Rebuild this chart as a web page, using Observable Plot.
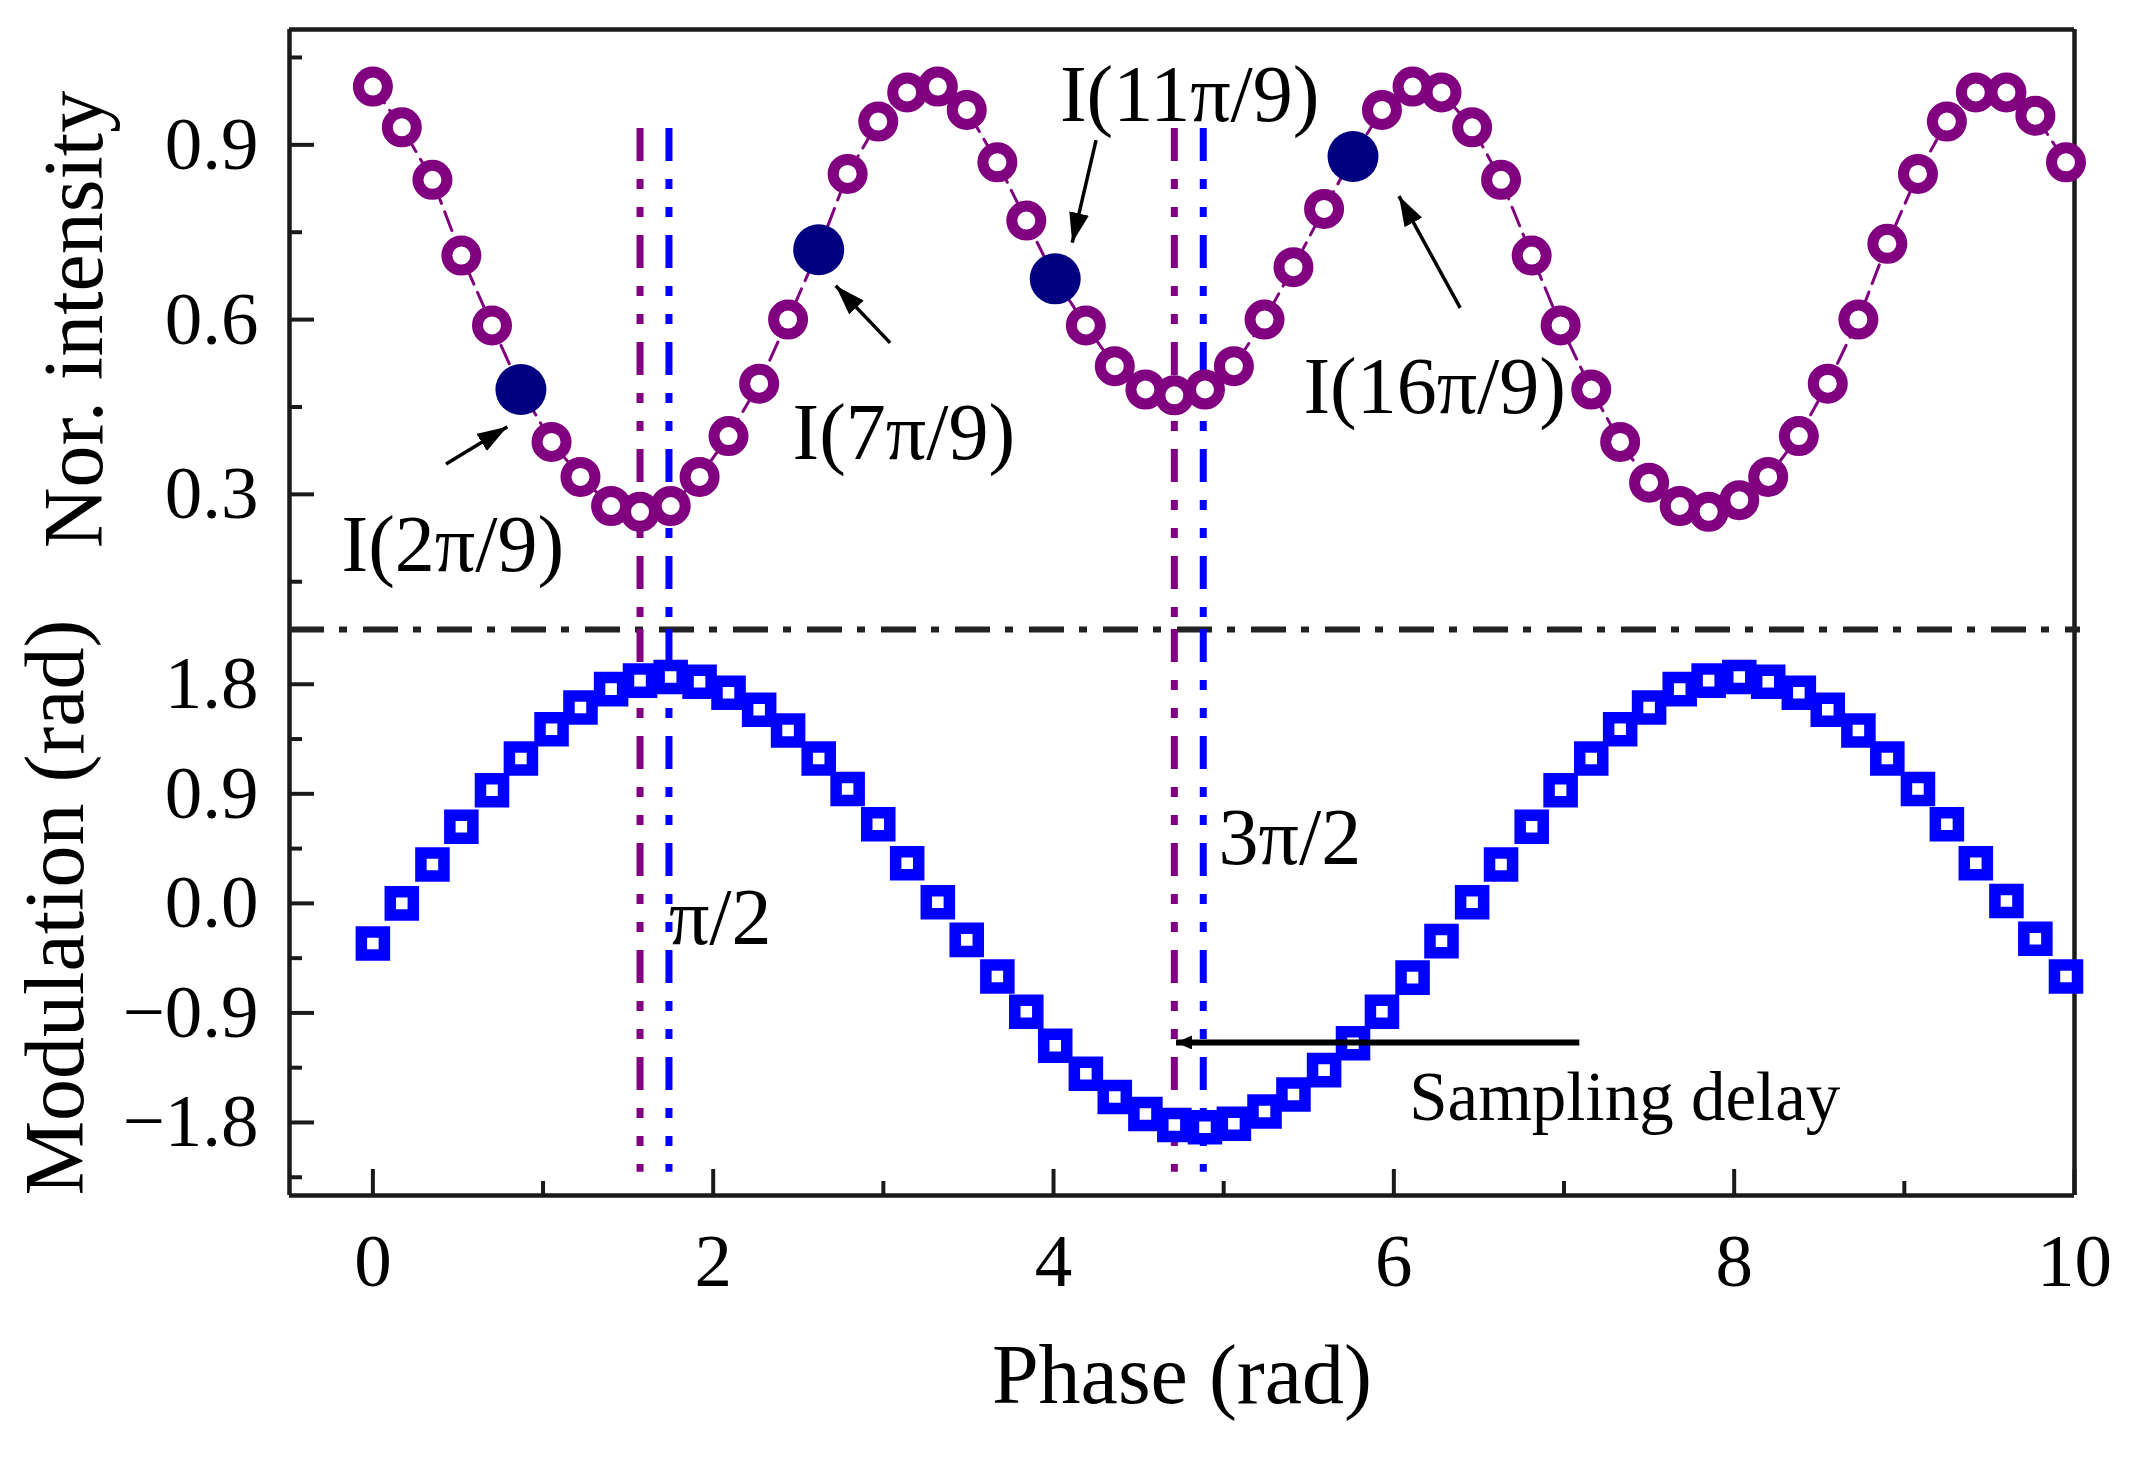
<!DOCTYPE html>
<html>
<head>
<meta charset="utf-8">
<script src="https://cdn.jsdelivr.net/npm/d3@7"></script>
<script src="https://cdn.jsdelivr.net/npm/@observablehq/plot@0.6"></script>
<style>
  body { margin: 0; background: white; }
  #chart { position: relative; width: 2129px; height: 1463px; }
  #chart svg { position: absolute; left: 0; top: 0; }
</style>
</head>
<body>
<div id="chart"></div>
<script>
// phase samples (rad)
const phase = [0.00,0.17,0.35,0.52,0.70,0.87,1.05,1.22,1.40,1.57,1.75,1.92,2.09,2.27,2.44,2.62,2.79,2.97,3.14,3.32,
  3.49,3.67,3.84,4.01,4.19,4.36,4.54,4.71,4.89,5.06,5.24,5.41,5.59,5.76,5.93,6.11,6.28,6.46,6.63,6.81,
  6.98,7.16,7.33,7.50,7.68,7.85,8.03,8.20,8.38,8.55,8.73,8.90,9.08,9.25,9.42,9.60,9.77,9.95]

const intensity = [1.00,0.93,0.84,0.71,0.59,0.48,0.39,0.33,0.28,0.27,0.28,0.33,0.40,0.49,0.60,0.72,0.85,0.94,0.99,1.00,
  0.96,0.87,0.77,0.67,0.59,0.52,0.48,0.47,0.48,0.52,0.60,0.69,0.79,0.88,0.96,1.00,0.99,0.93,0.84,0.71,
  0.59,0.48,0.39,0.32,0.28,0.27,0.29,0.33,0.40,0.49,0.60,0.73,0.85,0.94,0.99,0.99,0.95,0.87]

const modulation = [-0.33,0.00,0.32,0.63,0.93,1.19,1.43,1.61,1.76,1.83,1.86,1.82,1.73,1.59,1.42,1.19,0.94,0.65,0.33,0.01,
  -0.30,-0.60,-0.89,-1.17,-1.40,-1.59,-1.73,-1.82,-1.84,-1.81,-1.71,-1.57,-1.37,-1.15,-0.89,-0.61,-0.31,0.01,0.32,0.63,
  0.93,1.19,1.43,1.61,1.76,1.83,1.86,1.82,1.73,1.59,1.42,1.19,0.94,0.65,0.33,0.02,-0.29,-0.60]

// samples marked with filled dots
const picked = [5, 15, 23, 33]

const purpleX = [1.57, 4.71]   // pi/2, 3pi/2
const blueX = [1.74, 4.88]     // modulation extrema

const annTop = [
  {label: "I(2π/9)", x: 0.47, y: 0.213},
  {label: "I(7π/9)", x: 3.12, y: 0.405},
  {label: "I(11π/9)", x: 4.80, y: 0.985},
  {label: "I(16π/9)", x: 6.24, y: 0.483}
]
const arrowsTop = [
  {x1: 0.43, y1: 0.352, x2: 0.79, y2: 0.416},
  {x1: 3.04, y1: 0.560, x2: 2.72, y2: 0.658},
  {x1: 4.25, y1: 0.908, x2: 4.11, y2: 0.732},
  {x1: 6.39, y1: 0.620, x2: 6.03, y2: 0.812}
]
const annBottom = [
  {label: "π/2", x: 1.74, y: -0.12, size: 80},
  {label: "3π/2", x: 4.97, y: 0.53, size: 80},
  {label: "Sampling delay", x: 6.09, y: -1.60, size: 69}
]
const delayArrow = [{x1: 7.09, y1: -1.143, x2: 4.72, y2: -1.143}]

const xDomain = [-0.49, 10]
const yTopDomain = [0.068, 1.098]
const yBotDomain = [-2.4, 2.25]
const yTopTicks = [0.3, 0.6, 0.9]
const yTopMinor = [0.15, 0.45, 0.75, 1.05]
const yBotTicks = [-1.8, -0.9, 0, 0.9, 1.8]
const yBotMinor = [-2.25, -1.35, -0.45, 0.45, 1.35]
const xTicks = [0, 2, 4, 6, 8, 10]
const xMinor = [1, 3, 5, 7, 9]

const W = 2129, H = 1463
const mL = 289, mR = 55
const plotW = W - mL - mR
const splitY = 629
const bottomY = 1195

const points = phase.map((x, i) => ({x, I: intensity[i], M: modulation[i]}))
const filled = picked.map(i => points[i])

const frameColor = "#1a1a1a"
const purple = "#800080"
const blue = "#0000ff"
const vDash = "33,18,10,18,10,18"
const style = {
  fontFamily: "'Liberation Serif', 'Times New Roman', serif",
  fontSize: "75px",
  color: "black",
  background: "transparent",
  overflow: "visible"
}

// filled triangular arrow head
function solidHead(len, half) {
  return (color) => {
    const ns = "http://www.w3.org/2000/svg"
    const m = document.createElementNS(ns, "marker")
    m.setAttribute("viewBox", `0 ${-half} ${len} ${2 * half}`)
    m.setAttribute("markerUnits", "userSpaceOnUse")
    m.setAttribute("markerWidth", len)
    m.setAttribute("markerHeight", 2 * half)
    m.setAttribute("refX", len)
    m.setAttribute("refY", 0)
    m.setAttribute("orient", "auto")
    const p = document.createElementNS(ns, "path")
    p.setAttribute("d", `M0,${-half}L${len},0L0,${half}Z`)
    p.setAttribute("fill", color)
    p.setAttribute("stroke", "none")
    m.appendChild(p)
    return m
  }
}

let topChart = Plot.plot({
  width: W,
  height: H,
  marginLeft: mL,
  marginRight: mR,
  marginTop: 29,
  marginBottom: H - splitY,
  x: {domain: xDomain, axis: null},
  y: {domain: yTopDomain},
  style: style,
  marks: [
    Plot.tickY(yTopTicks, {y: d => d, insetRight: plotW - 25, strokeWidth: 4, stroke: frameColor}),
    Plot.tickY(yTopMinor, {y: d => d, insetRight: plotW - 13, strokeWidth: 4, stroke: frameColor}),
    Plot.ruleY([yTopDomain[1]], {strokeWidth: 4.5, stroke: frameColor}),
    Plot.ruleX(xDomain, {strokeWidth: 4.5, stroke: frameColor}),
    Plot.ruleX(purpleX, {y1: 0.928, y2: yTopDomain[0], stroke: purple, strokeWidth: 7, strokeDasharray: vDash}),
    Plot.ruleX(blueX, {y1: 0.928, y2: yTopDomain[0], stroke: blue, strokeWidth: 7, strokeDasharray: vDash}),
    Plot.line(points, {x: "x", y: "I", stroke: purple, strokeWidth: 3, strokeDasharray: "20,9"}),
    Plot.dot(points, {x: "x", y: "I", r: 14.5, stroke: purple, strokeWidth: 11, fill: "white"}),
    Plot.dot(filled, {x: "x", y: "I", r: 25.5, fill: "#000080"}),
    Plot.link(arrowsTop, {x1: "x1", y1: "y1", x2: "x2", y2: "y2", stroke: "black", strokeWidth: 3.5, markerEnd: solidHead(30, 10)}),
    Plot.text(annTop, {x: "x", y: "y", text: "label", fontSize: 80, fill: "black"}),
    Plot.axisY(yTopTicks, {tickSize: 0, tickPadding: 31, tickFormat: d3.format(".1f"), label: null}),
    Plot.text(["Nor. intensity"], {frameAnchor: "left", textAnchor: "middle", rotate: -90, dx: -214, dy: -10, fontSize: 84, fill: "black"})
  ]
})

let bottomChart = Plot.plot({
  width: W,
  height: H,
  marginLeft: mL,
  marginRight: mR,
  marginTop: splitY,
  marginBottom: H - bottomY,
  x: {domain: xDomain},
  y: {domain: yBotDomain},
  style: style,
  marks: [
    Plot.tickY(yBotTicks, {y: d => d, insetRight: plotW - 25, strokeWidth: 4, stroke: frameColor}),
    Plot.tickY(yBotMinor, {y: d => d, insetRight: plotW - 13, strokeWidth: 4, stroke: frameColor}),
    Plot.tickX(xTicks, {x: d => d, insetTop: (bottomY - splitY) - 26, strokeWidth: 4, stroke: frameColor}),
    Plot.tickX(xMinor, {x: d => d, insetTop: (bottomY - splitY) - 14, strokeWidth: 4, stroke: frameColor}),
    Plot.ruleY([yBotDomain[0]], {strokeWidth: 4.5, stroke: frameColor}),
    Plot.ruleX(xDomain, {strokeWidth: 4.5, stroke: frameColor}),
    Plot.ruleY([yBotDomain[1]], {stroke: "#222", strokeWidth: 6, strokeDasharray: "35,15,8,16", insetRight: -6}),
    Plot.ruleX(purpleX, {y1: yBotDomain[1], y2: -2.21, stroke: purple, strokeWidth: 7, strokeDasharray: vDash}),
    Plot.ruleX(blueX, {y1: yBotDomain[1], y2: -2.21, stroke: blue, strokeWidth: 7, strokeDasharray: vDash}),
    Plot.dot(points, {x: "x", y: "M", symbol: "square", r: 13, stroke: blue, strokeWidth: 11.5, fill: "white"}),
    Plot.link(delayArrow, {x1: "x1", y1: "y1", x2: "x2", y2: "y2", stroke: "black", strokeWidth: 6, markerEnd: solidHead(16, 7)}),
    Plot.text(annBottom, {x: "x", y: "y", text: "label", fontSize: d => d.size, textAnchor: "start", fill: "black"}),
    Plot.axisY(yBotTicks, {tickSize: 0, tickPadding: 31, tickFormat: d3.format(".1f"), label: null}),
    Plot.axisX(xTicks, {tickSize: 0, tickPadding: 37, tickFormat: d => String(d), label: null}),
    Plot.text(["Modulation (rad)"], {frameAnchor: "left", textAnchor: "middle", rotate: -90, dx: -233, dy: -5, fontSize: 84, fill: "black"}),
    Plot.text(["Phase (rad)"], {frameAnchor: "bottom", dy: 207, fontSize: 84, fill: "black"})
  ]
})

d3.select('#chart').append(() => topChart)
d3.select('#chart').append(() => bottomChart)
</script>
</body>
</html>
